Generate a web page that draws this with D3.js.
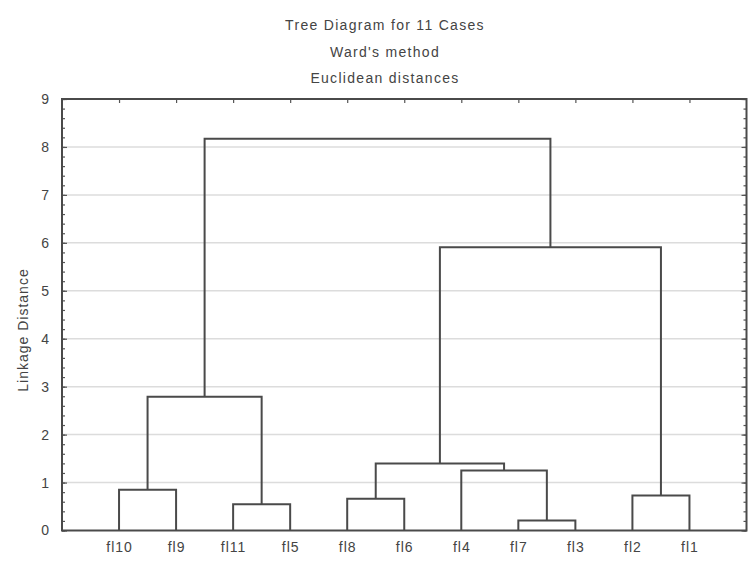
<!DOCTYPE html>
<html>
<head>
<meta charset="utf-8">
<script src="https://cdn.jsdelivr.net/npm/d3@7"></script>
<style>
  body { margin: 0; background: #fff; }
  text { font-family: "Liberation Sans", Arial, sans-serif; fill: #444; }
</style>
</head>
<body>
<div id="chart"></div>
<script>
// leaves in the order they appear along the x axis
const leaves = ["fl10", "fl9", "fl11", "fl5", "fl8", "fl6", "fl4", "fl7", "fl3", "fl2", "fl1"];

// merges: cluster "c<i+1>" joins mergeLeft[i] and mergeRight[i] at mergeHeight[i]
const mergeLeft   = ["fl7", "fl11", "fl8", "fl2", "fl10", "fl4", "c3", "c5", "c7", "c8"];
const mergeRight  = ["fl3", "fl5",  "fl6", "fl1", "fl9",  "c1",  "c6", "c2", "c4", "c9"];
const mergeHeight = [0.21, 0.55, 0.66, 0.73, 0.85, 1.25, 1.40, 2.79, 5.91, 8.17];

const yTicks = [0, 1, 2, 3, 4, 5, 6, 7, 8, 9];
const titleLines = ["Tree Diagram for 11 Cases", "Ward's method", "Euclidean distances"];

const W = 752, H = 565;
const margin = {top: 99, right: 5.5, bottom: 34.5, left: 62};
const width = W - margin.left - margin.right,
      height = H - margin.top - margin.bottom;

const svg = d3.select("#chart")
  .append("svg")
    .attr("width", W)
    .attr("height", H);

const g = svg.append("g")
  .attr("transform", "translate(" + margin.left + "," + margin.top + ")");

// scales
const x = d3.scalePoint()
  .domain(leaves)
  .range([0, width])
  .padding(1);

const y = d3.scaleLinear()
  .domain([0, 9])
  .range([height, 0]);

// grid lines
g.append("g")
  .selectAll("line")
  .data(yTicks.slice(1, -1))
  .join("line")
    .attr("x1", 0)
    .attr("x2", width)
    .attr("y1", d => y(d))
    .attr("y2", d => y(d))
    .attr("stroke", "#dcdcdc")
    .attr("stroke-width", 1.5);

// minor ticks every 0.2
const minor = d3.range(0, 9.001, 0.2);

function styleAxis(sel) {
  sel.select(".domain").remove();
  sel.selectAll(".tick line").attr("stroke", "#555").attr("stroke-width", 1.2);
}

g.append("g")
  .call(d3.axisLeft(y).tickValues(minor).tickSize(-3).tickFormat(""))
  .call(styleAxis);

g.append("g")
  .call(d3.axisLeft(y).tickValues(yTicks).tickSize(-5).tickPadding(13))
  .call(styleAxis)
  .call(a => a.selectAll("text")
    .attr("font-size", 14)
    .attr("fill", "#444")
    .style("font-family", "Liberation Sans, Arial, sans-serif"));

g.append("g")
  .attr("transform", "translate(" + width + ",0)")
  .call(d3.axisRight(y).tickValues(minor).tickSize(-3).tickFormat(""))
  .call(styleAxis);

g.append("g")
  .attr("transform", "translate(" + width + ",0)")
  .call(d3.axisRight(y).tickValues(yTicks).tickSize(-5).tickFormat(""))
  .call(styleAxis);

g.append("g")
  .call(d3.axisTop(x).tickSize(-4).tickFormat(""))
  .call(styleAxis);

g.append("g")
  .attr("transform", "translate(0," + height + ")")
  .call(d3.axisBottom(x).tickSize(0).tickPadding(12))
  .call(styleAxis)
  .call(a => a.selectAll("text")
    .attr("font-size", 14)
    .attr("fill", "#444")
    .attr("letter-spacing", 1)
    .style("font-family", "Liberation Sans, Arial, sans-serif"));

// dendrogram links
const nodes = new Map(leaves.map(d => [d, {x: x(d), h: 0}]));
const links = mergeHeight.map((h, i) => {
  const a = nodes.get(mergeLeft[i]), b = nodes.get(mergeRight[i]);
  nodes.set("c" + (i + 1), {x: (a.x + b.x) / 2, h: h});
  return {a: a, b: b, h: h};
});

g.append("g")
  .selectAll("path")
  .data(links)
  .join("path")
    .attr("d", d => "M" + d.a.x + "," + y(d.a.h) +
                    "V" + y(d.h) + "H" + d.b.x + "V" + y(d.b.h))
    .attr("fill", "none")
    .attr("stroke", "#4a4a4a")
    .attr("stroke-width", 2);

// frame
g.append("rect")
  .attr("width", width)
  .attr("height", height)
  .attr("fill", "none")
  .attr("stroke", "#4a4a4a")
  .attr("stroke-width", 2);

// titles
svg.append("g")
  .selectAll("text")
  .data(titleLines)
  .join("text")
    .attr("x", 385)
    .attr("y", (d, i) => 30 + i * 26.5)
    .attr("text-anchor", "middle")
    .attr("font-size", 14)
    .attr("letter-spacing", 1.3)
    .text(d => d);

// y axis title
svg.append("text")
  .attr("transform", "translate(28,330) rotate(-90)")
  .attr("text-anchor", "middle")
  .attr("font-size", 14)
  .attr("letter-spacing", 1)
  .text("Linkage Distance");
</script>
</body>
</html>
